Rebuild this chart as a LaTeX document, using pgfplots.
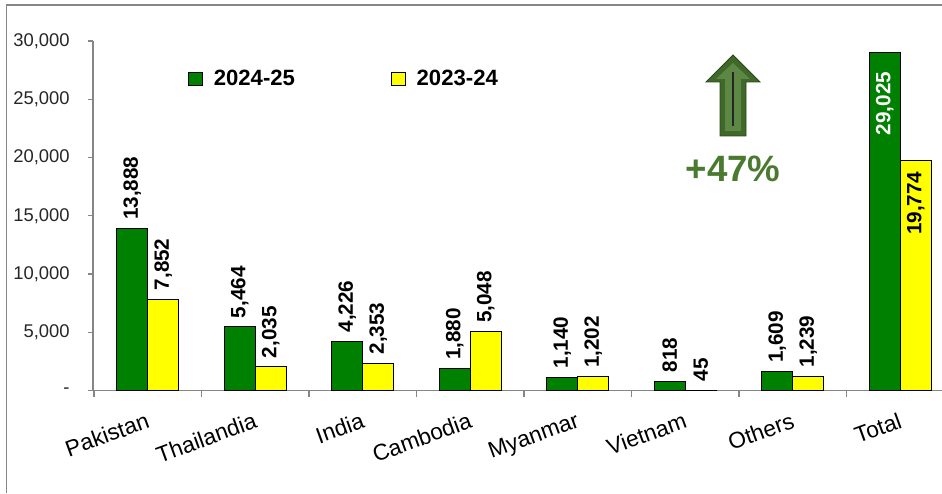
\documentclass[border=0pt]{standalone}
\usepackage{pgfplots}
\pgfplotsset{compat=1.18}
\usepackage{fontspec}
\setmainfont{Liberation Sans}
\definecolor{barg}{HTML}{008000}
\definecolor{bary}{HTML}{FFFF00}
\definecolor{axg}{HTML}{868686}
\definecolor{arrg}{HTML}{4A7A30}
\pgfplotstableread{
x a b
0 13888 7852
1 5464 2035
2 4226 2353
3 1880 5048
4 1140 1202
5 818 45
6 1609 1239
}\regular
\pgfplotstableread{
x a b
7 29025 19774
}\total
\newcommand{\lab}{\fontsize{15.5pt}{16pt}\selectfont\bfseries}
\newcommand{\numfmt}{\pgfmathprintnumber[assume math mode=true,1000 sep={,}]{\pgfplotspointmeta}}
\begin{document}
\begin{tikzpicture}
\path[use as bounding box] (0,0) rectangle (706.5pt,369.75pt);
\draw[axg,line width=1.2pt] (4.9pt,0) -- (4.9pt,366pt) -- (706.5pt,366pt);
\begin{axis}[
  at={(69.75pt,76.8pt)},anchor=south west,
  scale only axis,width=636.75pt,height=262.2pt,
  xmin=-0.51,xmax=7.388,ymin=0,ymax=30000,
  clip=false,
  scaled y ticks=false,
  axis lines=left,
  axis line style={axg,line width=1pt,-},
  ytick={0,5000,10000,15000,20000,25000,30000},
  yticklabels={-,{5,000},{10,000},{15,000},{20,000},{25,000},{30,000}},
  yticklabel style={font=\fontsize{13.8pt}{14pt}\selectfont,text=black!85,xshift=-10pt},
  xtick={0,...,7},
  xticklabels={Pakistan,Thailandia,India,Cambodia,Myanmar,Vietnam,Others,Total},
  xticklabel style={font=\fontsize{17pt}{18pt}\selectfont,rotate=20,anchor=north east,yshift=-7pt,xshift=-2.5pt},
  minor xtick={-0.5,0.5,1.5,2.5,3.5,4.5,5.5,6.5},
  major x tick style={draw=none},
  minor tick length=4.5pt,
  y tick style={axg,line width=1pt},
  x tick style={axg,line width=1pt},
  minor x tick style={axg,line width=1pt},
  major tick length=4pt,
  tick align=outside,
  ybar,bar width=23.25pt,bar shift=0pt,
  legend style={anchor=south west,draw=none,fill=none,
    at={(rel axis cs:0.1074,0.851)},legend columns=2,
    font=\fontsize{16.6pt}{17pt}\selectfont\bfseries,
    /tikz/every even column/.append style={column sep=70.25pt}},
]
\addplot+[bar shift=-11.625pt,draw=black,fill=barg,line width=.8pt,mark=none,
  legend image code/.code={\draw[black,fill=barg,line width=.7pt] (0pt,-5pt) rectangle (10.5pt,5pt);\path (16.25pt,0pt);},
  nodes near coords={\numfmt},
  nodes near coords style={font=\lab,rotate=90,anchor=west,inner sep=5.5pt,xshift=0.75pt,text=black}] table[x=x,y=a]{\regular};
\addplot+[bar shift=11.625pt,draw=black,fill=bary,line width=.8pt,mark=none,
  legend image code/.code={\draw[black,fill=bary,line width=.7pt] (0pt,-5pt) rectangle (10.5pt,5pt);\path (16.25pt,0pt);},
  nodes near coords={\numfmt},
  nodes near coords style={font=\lab,rotate=90,anchor=west,inner sep=5.5pt,xshift=0.75pt,text=black}] table[x=x,y=b]{\regular};
\legend{2024-25,2023-24}
\addplot+[forget plot,bar shift=-11.625pt,draw=black,fill=barg,line width=.8pt,mark=none,
  nodes near coords={\numfmt},
  nodes near coords style={font=\lab,rotate=90,anchor=east,inner sep=15pt,xshift=0.75pt,text=white}] table[x=x,y=a]{\total};
\addplot+[forget plot,bar shift=11.625pt,draw=black,fill=bary,line width=.8pt,mark=none,
  nodes near coords={\numfmt},
  nodes near coords style={font=\lab,rotate=90,anchor=east,inner sep=9pt,xshift=0.75pt,text=black}] table[x=x,y=b]{\total};
\end{axis}
% arrow annotation (picture coordinates in px, y from top)
\begin{scope}[x=0.75pt,y=-0.75pt,yshift=369.75pt]
\fill[arrg!85!black,draw=arrg!60!black,line width=.6pt] (733,55) -- (760,82) -- (746,82) -- (746,136) -- (720,136) -- (720,82) -- (706,82) -- cycle;
\fill[arrg!90!white] (733,63) -- (750,79) -- (741,79) -- (741,131) -- (725,131) -- (725,79) -- (716,79) -- cycle;
\draw[black!85,line width=1.8pt] (733,72) -- (733,126);
\node[text=arrg,font=\fontsize{27.5pt}{28pt}\selectfont\bfseries] at (733,169) {+47\%};
\end{scope}
\end{tikzpicture}
\end{document}
